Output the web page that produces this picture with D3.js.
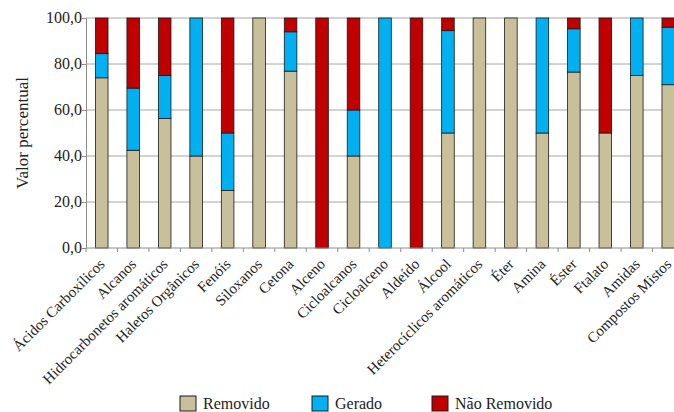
<!DOCTYPE html>
<html>
<head>
<meta charset="UTF-8">
<script src="https://d3js.org/d3.v7.min.js"></script>
</head>
<body style="margin:0">
<script>
    const categories = ["Ácidos Carboxílicos", "Alcanos", "Hidrocarbonetos aromáticos", "Haletos Orgânicos",
        "Fenóis", "Siloxanos", "Cetona", "Alceno", "Cicloalcanos", "Cicloalceno", "Aldeído", "Álcool",
        "Heterocíclicos aromáticos", "Éter", "Amina", "Éster", "Ftalato", "Amidas", "Compostos Mistos"];
    const removido    = [74, 42.5, 56.3, 40, 25, 100, 76.9, 0, 40, 0, 0, 50, 100, 100, 50, 76.5, 50, 75, 71];
    const gerado      = [10.5, 27, 18.7, 60, 25, 0, 17.1, 0, 20, 100, 0, 44.5, 0, 0, 50, 18.8, 0, 25, 25];
    const naoRemovido = [15.5, 30.5, 25, 0, 50, 0, 6, 100, 40, 0, 100, 5.5, 0, 0, 0, 4.7, 50, 0, 4];
    const seriesNames = ["Removido", "Gerado", "Não Removido"];
    const seriesColors = ["#c8bf9b", "#00b0f0", "#c00000"];
    const yTicks = [0, 20, 40, 60, 80, 100];

    const width = 674, height = 412;
    const margin = {top: 18, left: 86, right: -10, bottom: 164};
    const serif = "'Liberation Serif'";

    const svg = d3.select("body").append("svg")
        .attr("width", width)
        .attr("height", height)
        .attr("font-family", "Liberation Serif");

    const rows = categories.map((c, i) => ({
        cat: c, "Removido": removido[i], "Gerado": gerado[i], "Não Removido": naoRemovido[i]
    }));
    const stacked = d3.stack().keys(seriesNames)(rows);

    const x = d3.scaleBand()
        .domain(categories)
        .range([margin.left, width - margin.right])
        .paddingInner(0.6)
        .paddingOuter(0.3);

    const y = d3.scaleLinear()
        .domain([0, 100])
        .range([height - margin.bottom, margin.top]);

    // grid lines
    svg.append("g")
        .selectAll("line")
        .data(yTicks.filter(d => d > 0))
        .join("line")
        .attr("x1", margin.left)
        .attr("x2", width)
        .attr("y1", d => y(d))
        .attr("y2", d => y(d))
        .attr("stroke", "#a6a6a6")
        .attr("stroke-width", 1);

    // bars
    const color = d3.scaleOrdinal(seriesNames, seriesColors);
    svg.append("g")
        .selectAll("g")
        .data(stacked)
        .join("g")
        .attr("fill", d => color(d.key))
        .selectAll("rect")
        .data(d => d.filter(s => s[1] - s[0] > 0))
        .join("rect")
        .attr("x", d => x(d.data.cat))
        .attr("width", x.bandwidth())
        .attr("y", d => y(d[1]))
        .attr("height", d => y(d[0]) - y(d[1]))
        .attr("stroke", "#1a1a1a")
        .attr("stroke-width", 0.8);

    // y axis, labels drawn as plain texts below
    const yAxis = svg.append("g")
        .attr("transform", `translate(${margin.left},0)`)
        .call(d3.axisLeft(y).tickValues(yTicks).tickSize(4).tickFormat(""));
    yAxis.select(".domain").attr("stroke", "#8c8c8c");
    yAxis.selectAll(".tick line").attr("stroke", "#8c8c8c");

    svg.selectAll(".ylab")
        .data(yTicks)
        .join("text")
        .attr("class", "ylab")
        .attr("x", margin.left - 4)
        .attr("y", d => y(d) + 5)
        .attr("text-anchor", "end")
        .attr("font-size", 16)
        .attr("fill", "#222")
        .style("font-family", serif)
        .text(d => d3.format(".1f")(d).replace(".", ","));

    // x axis
    const xBoundaries = d3.range(categories.length + 1).map(i => margin.left + i * x.step());
    svg.append("line")
        .attr("x1", margin.left)
        .attr("x2", width)
        .attr("y1", y(0))
        .attr("y2", y(0))
        .attr("stroke", "#8c8c8c");
    svg.append("g")
        .selectAll("line")
        .data(xBoundaries)
        .join("line")
        .attr("x1", d => d)
        .attr("x2", d => d)
        .attr("y1", y(0))
        .attr("y2", y(0) + 4)
        .attr("stroke", "#8c8c8c");

    svg.selectAll(".xlab")
        .data(categories)
        .join("text")
        .attr("class", "xlab")
        .attr("transform", d => `translate(${x(d) + x.bandwidth() / 2 + 4},${y(0) + 17}) rotate(-45)`)
        .attr("text-anchor", "end")
        .attr("font-size", 15)
        .attr("fill", "#222")
        .style("font-family", serif)
        .text(d => d);

    // y title
    svg.append("text")
        .attr("transform", `translate(28,${(y(0) + y(100)) / 2}) rotate(-90)`)
        .attr("text-anchor", "middle")
        .attr("font-size", 17)
        .attr("fill", "#222")
        .style("font-family", serif)
        .text("Valor percentual");

    // legend
    const legendX = [180, 312, 432];
    svg.selectAll(".lsw")
        .data(seriesNames)
        .join("rect")
        .attr("class", "lsw")
        .attr("x", (d, i) => legendX[i])
        .attr("y", 396)
        .attr("width", 16)
        .attr("height", 15)
        .attr("fill", d => color(d))
        .attr("stroke", "#1a1a1a")
        .attr("stroke-width", 1);
    svg.selectAll(".ltx")
        .data(seriesNames)
        .join("text")
        .attr("class", "ltx")
        .attr("x", (d, i) => legendX[i] + 23)
        .attr("y", 409)
        .attr("font-size", 16)
        .attr("fill", "#222")
        .style("font-family", serif)
        .text(d => d);
</script>
</body>
</html>
